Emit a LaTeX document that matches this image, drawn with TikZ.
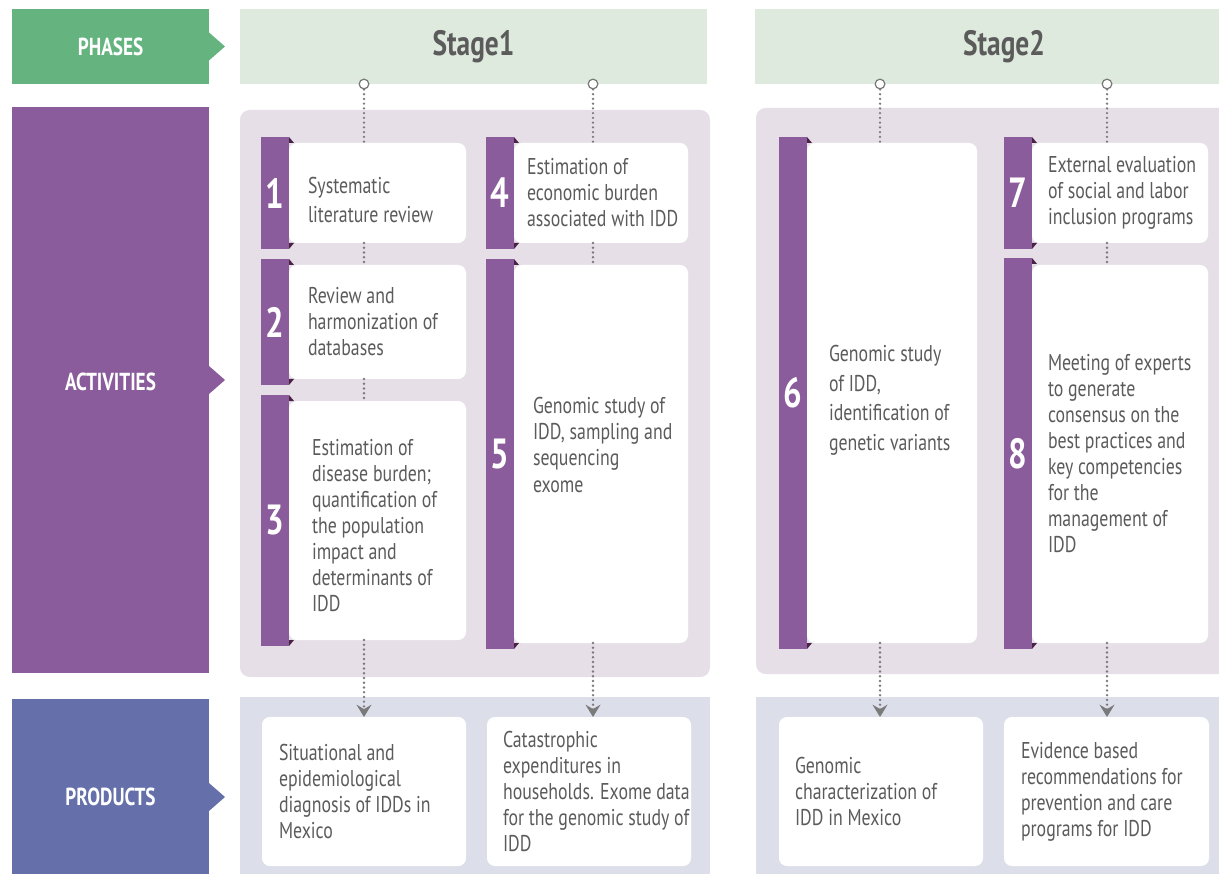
\documentclass[tikz,border=0pt]{standalone}
\usepackage{fontspec}
\setmainfont{PT Sans}[FakeStretch=0.78]
\usetikzlibrary{fit,positioning,arrows.meta}

\definecolor{phasegreen}{HTML}{65B37E}
\definecolor{actpurple}{HTML}{8A5C9B}
\definecolor{prodblue}{HTML}{6570AB}
\definecolor{stagebg}{HTML}{DFEADF}
\definecolor{actbg}{HTML}{E6DFE8}
\definecolor{prodbg}{HTML}{DCDFEA}
\definecolor{folddark}{HTML}{4A2246}
\definecolor{textgray}{HTML}{5B5B5B}
\definecolor{dotgray}{HTML}{7A7A7B}

\tikzset{
  box/.style={inner sep=0pt, outer sep=0pt},
  sidelabel/.style={box, text=white, font=\bfseries\fontsize{14}{16}\selectfont},
  stagetitle/.style={box, text=textgray, font=\bfseries\fontsize{20}{22}\selectfont},
  panel/.style={box, rounded corners=5.5pt},
  tab/.style={box, fill=actpurple},
  tabnum/.style={box, text=white, font=\bfseries\fontsize{24}{24}\selectfont},
  card/.style={box, fill=white, rounded corners=4.5pt},
  cardtext/.style={box, text=textgray, align=left, font=\fontsize{13}{14.8}\selectfont},
  ring/.style={circle, draw=dotgray, fill=white, line width=0.7pt, minimum size=5.5pt, inner sep=0pt},
  dots/.style={draw=dotgray, line width=1.5pt, line cap=round, dash pattern=on 0pt off 2.7pt},
  flow/.style={dots, -{Stealth[length=7pt,width=8.5pt,inset=2.5pt]}}
}

\begin{document}
\begin{tikzpicture}[x=0.02cm, y=-0.02cm]
  \useasboundingbox (0,0) rectangle (1219,874);

  % left column
  \node[box, fill=phasegreen, fit={(12,9)(209,84)}] (phases) {};
  \node[box, fill=actpurple, fit={(12,107)(209,673)}] (activities) {};
  \node[box, fill=prodblue, fit={(12,699)(209,895)}] (products) {};
  \fill[phasegreen] (phases.east) ++(0,-14) -- ++(16,14) -- ++(-16,14) -- cycle;
  \fill[actpurple] (activities.east) ++(0,-24) -- ++(16,14) -- ++(-16,14) -- cycle;
  \fill[prodblue] (products.east) ++(0,-14) -- ++(16,14) -- ++(-16,14) -- cycle;
  \node[sidelabel] (phasestext) at (phases.center) {PHASES};
  \node[sidelabel, yshift=0.16cm] (activitiestext) at (activities.center) {ACTIVITIES};
  \node[sidelabel] (productstext) at (products.center) {PRODUCTS};

  % backgrounds
  \node[box, fill=stagebg, fit={(240,9)(707,84)}] (stage1) {};
  \node[box, fill=stagebg, fit={(755,9)(1253,84)}] (stage2) {};
  \node[stagetitle] (stage1text) at (stage1.center) {Stage1};
  \node[stagetitle] (stage2text) at (stage2.center) {Stage2};
  \node[panel, fill=actbg, fit={(240,110)(710,677)}] (act1) {};
  \node[panel, fill=actbg, fit={(756,108)(1245,674)}] (act2) {};
  \node[box, fill=prodbg, fit={(240,697)(710,890)}] (prod1) {};
  \node[box, fill=prodbg, fit={(756,697)(1245,890)}] (prod2) {};

  % activities
  \node[tab, fit={(261,137)(289,249)}] (t1) {};
  \node[tab, fit={(261,259)(289,385)}] (t2) {};
  \node[tab, fit={(261,395)(289,646)}] (t3) {};
  \node[tab, fit={(486,137)(514,249)}] (t4) {};
  \node[tab, fit={(486,259)(514,649)}] (t5) {};
  \node[tab, fit={(779,137)(807,649)}] (t6) {};
  \node[tab, fit={(1004,137)(1032,249)}] (t7) {};
  \node[tab, fit={(1004,258)(1032,649)}] (t8) {};

  \node[card, fit={(289,143)(466,243)}] (c1) {};
  \node[card, fit={(289,265)(466,379)}] (c2) {};
  \node[card, fit={(289,401)(466,640)}] (c3) {};
  \node[card, fit={(514,143)(688,243)}] (c4) {};
  \node[card, fit={(514,265)(688,643)}] (c5) {};
  \node[card, fit={(807,143)(977,643)}] (c6) {};
  \node[card, fit={(1032,143)(1208,243)}] (c7) {};
  \node[card, fit={(1032,265)(1208,643)}] (c8) {};

  \foreach \n in {1,...,8}{
    \node[tabnum] (num\n) at (t\n.center) {\n};
    \fill[folddark] (t\n.north east) -- ++(5,6) -- ++(-5,0) -- cycle;
    \fill[folddark] (t\n.south east) -- ++(5,-6) -- ++(-5,0) -- cycle;
  }

  \node[cardtext, right=0.38cm of c1.west, yshift=-0.14cm, font=\fontsize{13}{16.5}\selectfont] (c1text) {Systematic\\literature review};
  \node[cardtext, right=0.38cm of c2.west] (c2text) {Review and\\harmonization of\\databases};
  \node[cardtext, right=0.46cm of c3.west, yshift=-0.1cm] (c3text) {Estimation of\\disease burden;\\quantification of\\the population\\impact and\\determinants of\\IDD};
  \node[cardtext, right=0.26cm of c4.west] (c4text) {Estimation of\\economic burden\\associated with IDD};
  \node[cardtext, right=0.38cm of c5.west, yshift=0.18cm] (c5text) {Genomic study of\\IDD, sampling and\\sequencing\\exome};
  \node[cardtext, right=0.44cm of c6.west, yshift=-0.15cm, font=\fontsize{13}{16.8}\selectfont] (c6text) {Genomic study\\of IDD,\\identification of\\genetic variants};
  \node[cardtext, right=0.32cm of c7.west] (c7text) {External evaluation\\of social and labor\\inclusion programs};
  \node[cardtext, right=0.32cm of c8.west] (c8text) {Meeting of experts\\to generate\\consensus on the\\best practices and\\key competencies\\for the\\management of\\IDD};

  % products
  \node[card, fit={(262,717)(466,866)}] (p1) {};
  \node[card, fit={(487,717)(691,866)}] (p2) {};
  \node[card, fit={(779,717)(983,866)}] (p3) {};
  \node[card, fit={(1004,717)(1209,866)}] (p4) {};
  \node[cardtext, right=0.34cm of p1.west] (p1text) {Situational and\\epidemiological\\diagnosis of IDDs in\\Mexico};
  \node[cardtext, right=0.32cm of p2.west] (p2text) {Catastrophic\\expenditures in\\households. Exome data\\for the genomic study of\\IDD};
  \node[cardtext, right=0.32cm of p3.west] (p3text) {Genomic\\characterization of\\IDD in Mexico};
  \node[cardtext, right=0.34cm of p4.west] (p4text) {Evidence based\\recommendations for\\prevention and care\\programs for IDD};

  % connectors
  \node[ring] (o1) at (364,84) {};
  \node[ring] (o2) at (593,84) {};
  \node[ring] (o3) at (880,84) {};
  \node[ring] (o4) at (1107,84) {};

  \draw[dots] (o1) -- (o1 |- c1.north);
  \draw[dots] (o1 |- c1.south) -- (o1 |- c2.north);
  \draw[dots] (o1 |- c2.south) -- (o1 |- c3.north);
  \draw[flow] (o1 |- c3.south) -- (o1 |- p1.north);

  \draw[dots] (o2) -- (o2 |- c4.north);
  \draw[dots] (o2 |- c4.south) -- (o2 |- c5.north);
  \draw[flow] (o2 |- c5.south) -- (o2 |- p2.north);

  \draw[dots] (o3) -- (o3 |- c6.north);
  \draw[flow] (o3 |- c6.south) -- (o3 |- p3.north);

  \draw[dots] (o4) -- (o4 |- c7.north);
  \draw[dots] (o4 |- c7.south) -- (o4 |- c8.north);
  \draw[flow] (o4 |- c8.south) -- (o4 |- p4.north);

\end{tikzpicture}
\end{document}
